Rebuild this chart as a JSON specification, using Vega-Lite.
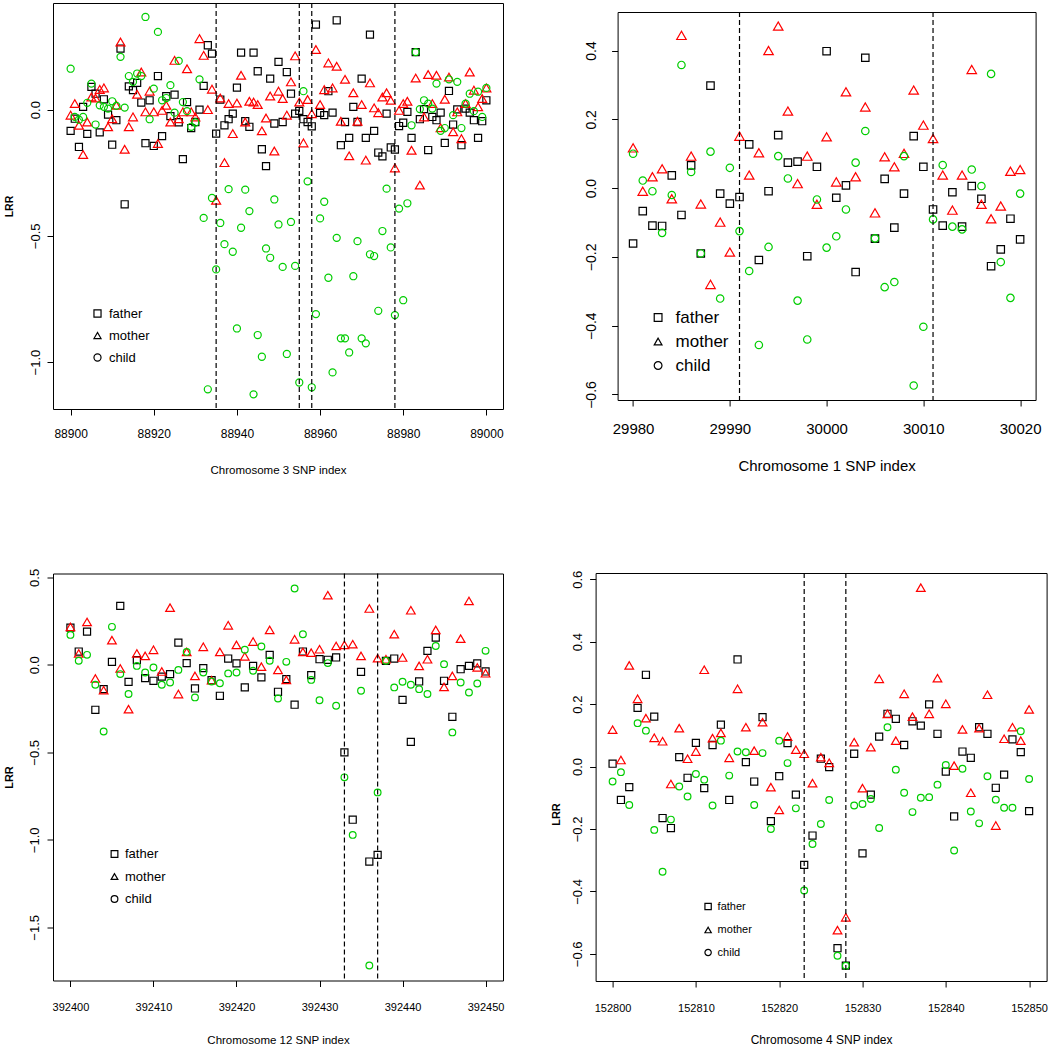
{
"$schema": "https://vega.github.io/schema/vega-lite/v6.json",
"padding": {"left": 2, "top": 1, "right": 0, "bottom": 0},
"background": "white",
"config": {
  "view": {"stroke": "black", "strokeWidth": 1},
  "axis": {"grid": false, "domain": false, "tickColor": "black", "tickSize": 6, "labelColor": "black", "titleColor": "black", "labelFont": "Liberation Sans", "titleFont": "Liberation Sans", "labelFlush": false, "labelOverlap": false, "titleFontWeight": "normal"},
  "legend": {"labelFont": "Liberation Sans", "labelColor": "black"}
},
"datasets": {
"tl": [
{"i":88900,"f":-0.084,"m":-0.022,"c":0.162},{"i":88901,"f":-0.036,"m":0.024,"c":-0.029},{"i":88902,"f":-0.148,"m":-0.062,"c":-0.04},{"i":88903,"f":0.011,"m":-0.178,"c":-0.029},{"i":88904,"f":-0.096,"m":-0.049,"c":0.027},{"i":88905,"f":0.09,"m":0.05,"c":0.103},{"i":88906,"f":0.063,"m":0.046,"c":-0.059},{"i":88907,"f":-0.09,"m":0.08,"c":0.017},{"i":88908,"f":0.041,"m":0.086,"c":0.011},{"i":88909,"f":-0.02,"m":-0.068,"c":0.004},
{"i":88910,"f":-0.139,"m":-0.036,"c":0.033},{"i":88911,"f":-0.042,"m":0.017,"c":0.015},{"i":88912,"f":0.242,"m":0.268,"c":0.209},{"i":88913,"f":-0.375,"m":-0.157,"c":0.008},{"i":88914,"f":0.092,"m":-0.068,"c":0.133},{"i":88915,"f":0.077,"m":-0.029,"c":0.11},{"i":88916,"f":0.106,"m":0.061,"c":0.143},{"i":88917,"f":0.028,"m":0.149,"c":0.133},{"i":88918,"f":-0.133,"m":-0.009,"c":0.367},{"i":88919,"f":0.037,"m":0.073,"c":-0.038},
{"i":88920,"f":-0.144,"m":-0.009,"c":0.083},{"i":88921,"f":0.133,"m":-0.134,"c":0.308},{"i":88922,"f":-0.105,"m":-0.003,"c":0.037},{"i":88923,"f":0.053,"m":0.017,"c":0.046},{"i":88924,"f":-0.026,"m":-0.049,"c":0.097},{"i":88925,"f":0.059,"m":0.195,"c":-0.012},{"i":88926,"f":-0.05,"m":-0.036,"c":0.193},{"i":88927,"f":-0.196,"m":-0.009,"c":0.03},{"i":88928,"f":0.03,"m":0.162,"c":-0.006},{"i":88929,"f":-0.073,"m":-0.009,"c":-0.068},
{"i":88930,"f":-0.049,"m":-0.029,"c":-0.051},{"i":88931,"f":0.0,"m":0.281,"c":0.12},{"i":88932,"f":0.094,"m":0.215,"c":-0.429},{"i":88933,"f":0.255,"m":0.0,"c":-1.108},{"i":88934,"f":0.222,"m":0.081,"c":-0.35},{"i":88935,"f":-0.095,"m":-0.359,"c":-0.633},{"i":88936,"f":0.04,"m":0.046,"c":-0.449},{"i":88937,"f":-0.062,"m":-0.21,"c":-0.533},{"i":88938,"f":-0.038,"m":0.024,"c":-0.315},{"i":88939,"f":-0.016,"m":-0.095,"c":-0.563},
{"i":88940,"f":0.087,"m":0.026,"c":-0.867},{"i":88941,"f":0.226,"m":0.136,"c":-0.468},{"i":88942,"f":-0.046,"m":-0.049,"c":-0.317},{"i":88943,"f":-0.068,"m":0.033,"c":-0.402},{"i":88944,"f":0.226,"m":0.03,"c":-1.128},{"i":88945,"f":0.152,"m":0.02,"c":-0.893},{"i":88946,"f":-0.157,"m":-0.084,"c":-0.979},{"i":88947,"f":-0.224,"m":-0.033,"c":-0.55},{"i":88948,"f":0.123,"m":0.054,"c":-0.587},{"i":88949,"f":-0.055,"m":-0.164,"c":-0.356},
{"i":88950,"f":0.189,"m":0.073,"c":-0.455},{"i":88951,"f":-0.049,"m":0.044,"c":-0.623},{"i":88952,"f":0.149,"m":-0.022,"c":-0.968},{"i":88953,"f":0.063,"m":0.11,"c":-0.445},{"i":88954,"f":-0.016,"m":0.213,"c":-0.619},{"i":88955,"f":-0.005,"m":0.03,"c":-1.081},{"i":88956,"f":-0.038,"m":-0.132,"c":0.073},{"i":88957,"f":-0.049,"m":0.04,"c":-0.284},{"i":88958,"f":-0.066,"m":-0.016,"c":-1.1},{"i":88959,"f":0.337,"m":0.238,"c":-0.81},
{"i":88960,"f":-0.013,"m":0.02,"c":-0.431},{"i":88961,"f":-0.022,"m":0.079,"c":-0.365},{"i":88962,"f":0.073,"m":0.185,"c":-0.666},{"i":88963,"f":-0.012,"m":0.086,"c":-1.041},{"i":88964,"f":0.354,"m":0.172,"c":-0.508},{"i":88965,"f":-0.141,"m":-0.046,"c":-0.906},{"i":88966,"f":-0.049,"m":0.12,"c":-0.906},{"i":88967,"f":-0.112,"m":-0.183,"c":-0.962},{"i":88968,"f":0.011,"m":0.067,"c":-0.66},{"i":88969,"f":-0.049,"m":-0.046,"c":-0.521},
{"i":88970,"f":0.123,"m":0.02,"c":-0.906},{"i":88971,"f":-0.112,"m":-0.2,"c":-0.926},{"i":88972,"f":0.297,"m":0.106,"c":-0.573},{"i":88973,"f":-0.084,"m":0.007,"c":-0.58},{"i":88974,"f":-0.17,"m":-0.012,"c":-0.797},{"i":88975,"f":-0.185,"m":0.05,"c":-0.481},{"i":88976,"f":-0.016,"m":0.067,"c":-0.313},{"i":88977,"f":-0.15,"m":0.037,"c":-0.546},{"i":88978,"f":-0.158,"m":-0.231,"c":-0.814},{"i":88979,"f":-0.065,"m":-0.003,"c":-0.392},
{"i":88980,"f":-0.052,"m":0.024,"c":-0.755},{"i":88981,"f":-0.009,"m":0.033,"c":-0.371},{"i":88982,"f":-0.112,"m":-0.161,"c":-0.062},{"i":88983,"f":0.228,"m":0.125,"c":0.228},{"i":88984,"f":-0.038,"m":-0.299,"c":0.002},{"i":88985,"f":0.002,"m":-0.029,"c":0.037},{"i":88986,"f":-0.16,"m":0.139,"c":0.024},{"i":88987,"f":-0.029,"m":0.024,"c":0.004},{"i":88988,"f":-0.042,"m":0.136,"c":0.103},{"i":88989,"f":-0.012,"m":-0.072,"c":-0.084},
{"i":88990,"f":-0.132,"m":0.041,"c":-0.073},{"i":88991,"f":0.074,"m":0.129,"c":0.12},{"i":88992,"f":-0.059,"m":-0.088,"c":-0.022},{"i":88993,"f":0.001,"m":-0.009,"c":0.11},{"i":88994,"f":-0.141,"m":-0.115,"c":-0.073},{"i":88995,"f":0.004,"m":0.024,"c":0.024},{"i":88996,"f":-0.012,"m":0.149,"c":0.063},{"i":88997,"f":-0.042,"m":0.077,"c":-0.006},{"i":88998,"f":-0.112,"m":0.011,"c":0.071},{"i":88999,"f":-0.046,"m":0.044,"c":-0.029},
{"i":89000,"f":0.037,"m":0.086,"c":0.086}
],
"tr": [
{"i":29980,"f":-0.161,"m":0.117,"c":0.1},{"i":29981,"f":-0.067,"m":-0.009,"c":0.022},{"i":29982,"f":-0.109,"m":0.033,"c":-0.009},{"i":29983,"f":-0.11,"m":0.056,"c":-0.13},{"i":29984,"f":0.037,"m":-0.031,"c":-0.02},{"i":29985,"f":-0.078,"m":0.444,"c":0.358},{"i":29986,"f":0.066,"m":0.093,"c":0.047},{"i":29987,"f":-0.19,"m":-0.046,"c":-0.19},{"i":29988,"f":0.298,"m":-0.28,"c":0.106},{"i":29989,"f":-0.016,"m":-0.099,"c":-0.321},
{"i":29990,"f":-0.045,"m":-0.186,"c":0.059},{"i":29991,"f":-0.026,"m":0.151,"c":-0.125},{"i":29992,"f":0.127,"m":0.038,"c":-0.241},{"i":29993,"f":-0.209,"m":0.103,"c":-0.456},{"i":29994,"f":-0.009,"m":0.4,"c":-0.171},{"i":29995,"f":0.154,"m":0.471,"c":0.093},{"i":29996,"f":0.074,"m":0.224,"c":0.028},{"i":29997,"f":0.077,"m":0.013,"c":-0.327},{"i":29998,"f":-0.198,"m":0.093,"c":-0.44},{"i":29999,"f":0.062,"m":-0.047,"c":-0.033},
{"i":30000,"f":0.398,"m":0.149,"c":-0.173},{"i":30001,"f":-0.028,"m":0.018,"c":-0.14},{"i":30002,"f":0.008,"m":0.28,"c":-0.062},{"i":30003,"f":-0.244,"m":0.033,"c":0.074},{"i":30004,"f":0.379,"m":0.236,"c":0.166},{"i":30005,"f":-0.147,"m":-0.072,"c":-0.146},{"i":30006,"f":0.027,"m":0.091,"c":-0.288},{"i":30007,"f":-0.115,"m":0.062,"c":-0.273},{"i":30008,"f":-0.016,"m":0.101,"c":0.093},{"i":30009,"f":0.151,"m":0.285,"c":-0.574},
{"i":30010,"f":0.062,"m":0.183,"c":-0.403},{"i":30011,"f":-0.062,"m":0.144,"c":-0.091},{"i":30012,"f":-0.109,"m":0.038,"c":0.067},{"i":30013,"f":-0.012,"m":-0.064,"c":-0.112},{"i":30014,"f":-0.112,"m":0.038,"c":-0.12},{"i":30015,"f":0.006,"m":0.345,"c":0.054},{"i":30016,"f":-0.031,"m":-0.047,"c":0.006},{"i":30017,"f":-0.227,"m":-0.089,"c":0.332},{"i":30018,"f":-0.178,"m":-0.052,"c":-0.215},{"i":30019,"f":-0.089,"m":0.049,"c":-0.319},
{"i":30020,"f":-0.149,"m":0.054,"c":-0.016}
],
"bl": [
{"i":392400,"f":0.213,"m":0.217,"c":0.171},{"i":392401,"f":0.076,"m":0.065,"c":0.023},{"i":392402,"f":0.19,"m":0.245,"c":0.057},{"i":392403,"f":-0.257,"m":-0.078,"c":-0.114},{"i":392404,"f":-0.139,"m":-0.145,"c":-0.381},{"i":392405,"f":0.017,"m":0.141,"c":0.217},{"i":392406,"f":0.337,"m":-0.021,"c":-0.053},{"i":392407,"f":-0.097,"m":-0.253,"c":-0.167},{"i":392408,"f":0.027,"m":0.065,"c":-0.006},{"i":392409,"f":-0.076,"m":0.051,"c":-0.044},
{"i":392410,"f":-0.091,"m":0.086,"c":-0.015},{"i":392411,"f":-0.067,"m":-0.038,"c":-0.114},{"i":392412,"f":-0.053,"m":0.327,"c":-0.101},{"i":392413,"f":0.127,"m":-0.167,"c":-0.029},{"i":392414,"f":0.01,"m":0.074,"c":0.074},{"i":392415,"f":-0.135,"m":-0.063,"c":-0.186},{"i":392416,"f":-0.019,"m":0.103,"c":-0.044},{"i":392417,"f":-0.088,"m":-0.088,"c":-0.095},{"i":392418,"f":-0.177,"m":0.074,"c":-0.105},{"i":392419,"f":0.036,"m":0.226,"c":-0.049},
{"i":392420,"f":0.008,"m":0.114,"c":-0.044},{"i":392421,"f":-0.129,"m":0.048,"c":0.086},{"i":392422,"f":-0.006,"m":0.133,"c":-0.034},{"i":392423,"f":-0.072,"m":-0.01,"c":0.105},{"i":392424,"f":0.057,"m":0.2,"c":0.023},{"i":392425,"f":-0.154,"m":-0.029,"c":-0.192},{"i":392426,"f":-0.082,"m":-0.086,"c":0.017},{"i":392427,"f":-0.228,"m":0.146,"c":0.436},{"i":392428,"f":0.076,"m":0.074,"c":0.175},{"i":392429,"f":-0.059,"m":0.07,"c":-0.086},
{"i":392430,"f":0.032,"m":0.089,"c":-0.202},{"i":392431,"f":0.029,"m":0.398,"c":0.01},{"i":392432,"f":0.042,"m":0.108,"c":-0.234},{"i":392433,"f":-0.5,"m":0.114,"c":-0.643},{"i":392434,"f":-0.885,"m":0.118,"c":-0.972},{"i":392435,"f":-0.04,"m":0.051,"c":-0.148},{"i":392436,"f":-1.124,"m":0.322,"c":-1.718},{"i":392437,"f":-1.086,"m":0.038,"c":-0.729},{"i":392438,"f":0.023,"m":0.032,"c":0.023},{"i":392439,"f":0.036,"m":0.175,"c":-0.129},
{"i":392440,"f":-0.2,"m":0.042,"c":-0.097},{"i":392441,"f":-0.44,"m":0.312,"c":-0.114},{"i":392442,"f":-0.095,"m":-0.006,"c":-0.139},{"i":392443,"f":0.08,"m":0.032,"c":-0.167},{"i":392444,"f":0.156,"m":0.2,"c":0.108},{"i":392445,"f":-0.091,"m":-0.126,"c":0.004},{"i":392446,"f":-0.297,"m":-0.063,"c":-0.386},{"i":392447,"f":-0.025,"m":0.15,"c":-0.101},{"i":392448,"f":-0.006,"m":0.365,"c":-0.158},{"i":392449,"f":0.008,"m":-0.015,"c":-0.107},
{"i":392450,"f":-0.038,"m":-0.048,"c":0.08}
],
"br": [
{"i":152800,"f":0.009,"m":0.118,"c":-0.048},{"i":152801,"f":-0.107,"m":0.021,"c":-0.018},{"i":152802,"f":-0.066,"m":0.324,"c":-0.123},{"i":152803,"f":0.188,"m":0.217,"c":0.139},{"i":152804,"f":0.294,"m":0.155,"c":0.115},{"i":152805,"f":0.16,"m":0.092,"c":-0.203},{"i":152806,"f":-0.165,"m":0.081,"c":-0.337},{"i":152807,"f":-0.197,"m":-0.056,"c":-0.17},{"i":152808,"f":0.03,"m":0.123,"c":-0.064},{"i":152809,"f":-0.036,"m":0.025,"c":-0.096},
{"i":152810,"f":0.076,"m":0.048,"c":-0.024},{"i":152811,"f":-0.069,"m":0.31,"c":-0.042},{"i":152812,"f":0.069,"m":0.091,"c":-0.125},{"i":152813,"f":0.134,"m":0.108,"c":0.083},{"i":152814,"f":-0.107,"m":0.028,"c":-0.029},{"i":152815,"f":0.343,"m":0.249,"c":0.048},{"i":152816,"f":0.014,"m":0.126,"c":0.046},{"i":152817,"f":-0.048,"m":0.051,"c":-0.123},{"i":152818,"f":0.158,"m":0.142,"c":0.043},{"i":152819,"f":-0.175,"m":-0.066,"c":-0.2},
{"i":152820,"f":-0.031,"m":-0.139,"c":0.083},{"i":152821,"f":0.075,"m":0.096,"c":0.011},{"i":152822,"f":-0.09,"m":0.054,"c":-0.134},{"i":152823,"f":-0.315,"m":0.041,"c":-0.397},{"i":152824,"f":-0.221,"m":-0.053,"c":-0.248},{"i":152825,"f":0.025,"m":0.03,"c":-0.184},{"i":152826,"f":-0.002,"m":0.012,"c":-0.107},{"i":152827,"f":-0.582,"m":-0.524,"c":-0.606},{"i":152828,"f":-0.638,"m":-0.483,"c":-0.638},{"i":152829,"f":0.041,"m":0.078,"c":-0.125},
{"i":152830,"f":-0.278,"m":-0.069,"c":-0.12},{"i":152831,"f":-0.09,"m":0.062,"c":-0.104},{"i":152832,"f":0.096,"m":0.281,"c":-0.197},{"i":152833,"f":0.169,"m":0.169,"c":0.126},{"i":152834,"f":0.153,"m":0.083,"c":-0.01},{"i":152835,"f":0.069,"m":0.233,"c":-0.084},{"i":152836,"f":0.145,"m":0.16,"c":-0.146},{"i":152837,"f":0.131,"m":0.573,"c":-0.1},{"i":152838,"f":0.199,"m":0.169,"c":-0.098},{"i":152839,"f":0.105,"m":0.283,"c":-0.058},
{"i":152840,"f":-0.016,"m":0.201,"c":0.005},{"i":152841,"f":-0.16,"m":0.003,"c":-0.269},{"i":152842,"f":0.048,"m":0.119,"c":-0.007},{"i":152843,"f":0.028,"m":-0.084,"c":-0.144},{"i":152844,"f":0.126,"m":0.123,"c":-0.182},{"i":152845,"f":0.105,"m":0.23,"c":-0.031},{"i":152846,"f":-0.068,"m":-0.189,"c":-0.106},{"i":152847,"f":-0.026,"m":0.089,"c":-0.132},{"i":152848,"f":0.087,"m":0.126,"c":-0.132},{"i":152849,"f":0.046,"m":0.083,"c":0.113},
{"i":152850,"f":-0.143,"m":0.183,"c":-0.04}
]
},
"spacing": 91,
"resolve": {"scale": {"shape": "independent"}, "legend": {"shape": "independent"}},
"vconcat": [
{
"spacing": 114.6,
"bounds": "flush",
"center": true,
"resolve": {"scale": {"shape": "independent"}, "legend": {"shape": "independent"}},
"hconcat": [
{
"width": 450, "height": 406,
"data": {"name": "tl"},
"layer": [
{"mark": {"type": "point", "filled": false, "color": "#000000", "size": 50, "strokeWidth": 1.2, "opacity": 1},
 "encoding": {
  "x": {"field": "i", "type": "quantitative", "scale": {"domain": [88895.76, 89004], "nice": false, "zero": false},
        "axis": {"title": "Chromosome 3 SNP index", "values": [88900, 88920, 88940, 88960, 88980, 89000], "format": "d", "labelFontSize": 12, "titleFontSize": 11.5, "labelPadding": 13, "titlePadding": 25}},
  "y": {"field": "f", "type": "quantitative", "scale": {"domain": [-1.186, 0.4224], "nice": false, "zero": false},
        "axis": {"title": "LRR", "values": [-1, -0.5, 0], "format": ".1f", "labelAngle": -90, "labelAlign": "center", "labelBaseline": "alphabetic", "labelFontSize": 13, "titleFontSize": 10.5, "titleFontWeight": "bold", "labelPadding": 8, "titlePadding": 15}},
  "shape": {"datum": "father", "type": "nominal", "scale": {"domain": ["father", "mother", "child"], "range": ["square", "triangle-up", "circle"]},
        "legend": {"orient": "none", "legendX": 38, "legendY": 304, "title": null, "direction": "vertical", "labelFontSize": 13, "symbolSize": 50, "symbolStrokeColor": "black", "symbolFillColor": "transparent", "symbolStrokeWidth": 1.2, "rowPadding": 8, "labelOffset": 5, "padding": 0}}
 }},
{"mark": {"type": "point", "filled": false, "color": "#FF0000", "size": 80, "strokeWidth": 1.2, "opacity": 1},
 "encoding": {
  "x": {"field": "i", "type": "quantitative", "scale": {"domain": [88895.76, 89004], "nice": false, "zero": false}},
  "y": {"field": "m", "type": "quantitative", "scale": {"domain": [-1.186, 0.4224], "nice": false, "zero": false}},
  "shape": {"datum": "mother", "type": "nominal", "scale": {"domain": ["father", "mother", "child"], "range": ["square", "triangle-up", "circle"]}}
 }},
{"mark": {"type": "point", "filled": false, "color": "#00CD00", "size": 50, "strokeWidth": 1.2, "opacity": 1},
 "encoding": {
  "x": {"field": "i", "type": "quantitative", "scale": {"domain": [88895.76, 89004], "nice": false, "zero": false}},
  "y": {"field": "c", "type": "quantitative", "scale": {"domain": [-1.186, 0.4224], "nice": false, "zero": false}},
  "shape": {"datum": "child", "type": "nominal", "scale": {"domain": ["father", "mother", "child"], "range": ["square", "triangle-up", "circle"]}}
 }},
{"data": {"values": [{"i": 88935}, {"i": 88955}, {"i": 88958}, {"i": 88978}]},
 "mark": {"type": "rule", "color": "black", "strokeWidth": 1.2, "strokeDash": [5, 3]},
 "encoding": {"x": {"field": "i", "type": "quantitative"}}}
]
},
{
"width": 418, "height": 388,
"data": {"name": "tr"},
"layer": [
{"mark": {"type": "point", "filled": false, "color": "#000000", "size": 55, "strokeWidth": 1.2, "opacity": 1},
 "encoding": {
  "x": {"field": "i", "type": "quantitative", "scale": {"domain": [29978.4, 30021.6], "nice": false, "zero": false},
        "axis": {"title": "Chromosome 1 SNP index", "values": [29980, 29990, 30000, 30010, 30020], "format": "d", "labelFontSize": 15, "titleFontSize": 15, "labelPadding": 15, "titlePadding": 22}},
  "y": {"field": "f", "type": "quantitative", "scale": {"domain": [-0.616, 0.512], "nice": false, "zero": false},
        "axis": {"title": null, "values": [-0.6, -0.4, -0.2, 0, 0.2, 0.4], "format": ".1f", "labelAngle": -90, "labelAlign": "center", "labelBaseline": "alphabetic", "labelFontSize": 14, "labelPadding": 16}},
  "shape": {"datum": "father", "type": "nominal", "scale": {"domain": ["father", "mother", "child"], "range": ["square", "triangle-up", "circle"]},
        "legend": {"orient": "none", "legendX": 32, "legendY": 297, "title": null, "direction": "vertical", "labelFontSize": 17, "symbolSize": 60, "symbolStrokeColor": "black", "symbolFillColor": "transparent", "symbolStrokeWidth": 1.2, "rowPadding": 6, "labelOffset": 9, "padding": 0}}
 }},
{"mark": {"type": "point", "filled": false, "color": "#FF0000", "size": 90, "strokeWidth": 1.2, "opacity": 1},
 "encoding": {
  "x": {"field": "i", "type": "quantitative", "scale": {"domain": [29978.4, 30021.6], "nice": false, "zero": false}},
  "y": {"field": "m", "type": "quantitative", "scale": {"domain": [-0.616, 0.512], "nice": false, "zero": false}},
  "shape": {"datum": "mother", "type": "nominal", "scale": {"domain": ["father", "mother", "child"], "range": ["square", "triangle-up", "circle"]}}
 }},
{"mark": {"type": "point", "filled": false, "color": "#00CD00", "size": 55, "strokeWidth": 1.2, "opacity": 1},
 "encoding": {
  "x": {"field": "i", "type": "quantitative", "scale": {"domain": [29978.4, 30021.6], "nice": false, "zero": false}},
  "y": {"field": "c", "type": "quantitative", "scale": {"domain": [-0.616, 0.512], "nice": false, "zero": false}},
  "shape": {"datum": "child", "type": "nominal", "scale": {"domain": ["father", "mother", "child"], "range": ["square", "triangle-up", "circle"]}}
 }},
{"data": {"values": [{"i": 29991}, {"i": 30011}]},
 "mark": {"type": "rule", "color": "black", "strokeWidth": 1.2, "strokeDash": [5, 3]},
 "encoding": {"x": {"field": "i", "type": "quantitative"}}}
]
}
]
},
{
"spacing": 92.6,
"bounds": "flush",
"center": true,
"resolve": {"scale": {"shape": "independent"}, "legend": {"shape": "independent"}},
"hconcat": [
{
"width": 450, "height": 407,
"data": {"name": "bl"},
"layer": [
{"mark": {"type": "point", "filled": false, "color": "#000000", "size": 50, "strokeWidth": 1.2, "opacity": 1},
 "encoding": {
  "x": {"field": "i", "type": "quantitative", "scale": {"domain": [392397.9, 392452.1], "nice": false, "zero": false},
        "axis": {"title": "Chromosome 12 SNP index", "values": [392400, 392410, 392420, 392430, 392440, 392450], "format": "d", "labelFontSize": 11, "titleFontSize": 11.5, "labelPadding": 15, "titlePadding": 22}},
  "y": {"field": "f", "type": "quantitative", "scale": {"domain": [-1.804, 0.522], "nice": false, "zero": false},
        "axis": {"title": "LRR", "values": [-1.5, -1, -0.5, 0, 0.5], "format": ".1f", "labelAngle": -90, "labelAlign": "center", "labelBaseline": "alphabetic", "labelFontSize": 13, "titleFontSize": 11, "titleFontWeight": "bold", "labelPadding": 9, "titlePadding": 14}},
  "shape": {"datum": "father", "type": "nominal", "scale": {"domain": ["father", "mother", "child"], "range": ["square", "triangle-up", "circle"]},
        "legend": {"orient": "none", "legendX": 55, "legendY": 274, "title": null, "direction": "vertical", "labelFontSize": 13, "symbolSize": 45, "symbolStrokeColor": "black", "symbolFillColor": "transparent", "symbolStrokeWidth": 1.2, "rowPadding": 8.5, "labelOffset": 4, "padding": 0}}
 }},
{"mark": {"type": "point", "filled": false, "color": "#FF0000", "size": 75, "strokeWidth": 1.2, "opacity": 1},
 "encoding": {
  "x": {"field": "i", "type": "quantitative", "scale": {"domain": [392397.9, 392452.1], "nice": false, "zero": false}},
  "y": {"field": "m", "type": "quantitative", "scale": {"domain": [-1.804, 0.522], "nice": false, "zero": false}},
  "shape": {"datum": "mother", "type": "nominal", "scale": {"domain": ["father", "mother", "child"], "range": ["square", "triangle-up", "circle"]}}
 }},
{"mark": {"type": "point", "filled": false, "color": "#00CD00", "size": 45, "strokeWidth": 1.2, "opacity": 1},
 "encoding": {
  "x": {"field": "i", "type": "quantitative", "scale": {"domain": [392397.9, 392452.1], "nice": false, "zero": false}},
  "y": {"field": "c", "type": "quantitative", "scale": {"domain": [-1.804, 0.522], "nice": false, "zero": false}},
  "shape": {"datum": "child", "type": "nominal", "scale": {"domain": ["father", "mother", "child"], "range": ["square", "triangle-up", "circle"]}}
 }},
{"data": {"values": [{"i": 392433}, {"i": 392437}]},
 "mark": {"type": "rule", "color": "black", "strokeWidth": 1.2, "strokeDash": [5, 3]},
 "encoding": {"x": {"field": "i", "type": "quantitative"}}}
]
},
{
"width": 451, "height": 408,
"data": {"name": "br"},
"layer": [
{"mark": {"type": "point", "filled": false, "color": "#000000", "size": 50, "strokeWidth": 1.2, "opacity": 1},
 "encoding": {
  "x": {"field": "i", "type": "quantitative", "scale": {"domain": [152797.96, 152852.1], "nice": false, "zero": false},
        "axis": {"title": "Chromosome 4 SNP index", "values": [152800, 152810, 152820, 152830, 152840, 152850], "format": "d", "labelFontSize": 11, "titleFontSize": 12, "labelPadding": 15, "titlePadding": 21}},
  "y": {"field": "f", "type": "quantitative", "scale": {"domain": [-0.687, 0.62], "nice": false, "zero": false},
        "axis": {"title": "LRR", "values": [-0.6, -0.4, -0.2, 0, 0.2, 0.4, 0.6], "format": ".1f", "labelAngle": -90, "labelAlign": "center", "labelBaseline": "alphabetic", "labelFontSize": 13, "titleFontSize": 11, "titleFontWeight": "bold", "labelPadding": 8, "titlePadding": 10, "titleY": 241}},
  "shape": {"datum": "father", "type": "nominal", "scale": {"domain": ["father", "mother", "child"], "range": ["square", "triangle-up", "circle"]},
        "legend": {"orient": "none", "legendX": 107, "legendY": 328, "title": null, "direction": "vertical", "labelFontSize": 11, "symbolSize": 40, "symbolStrokeColor": "black", "symbolFillColor": "transparent", "symbolStrokeWidth": 1.2, "rowPadding": 10.5, "labelOffset": 4, "padding": 0}}
 }},
{"mark": {"type": "point", "filled": false, "color": "#FF0000", "size": 75, "strokeWidth": 1.2, "opacity": 1},
 "encoding": {
  "x": {"field": "i", "type": "quantitative", "scale": {"domain": [152797.96, 152852.1], "nice": false, "zero": false}},
  "y": {"field": "m", "type": "quantitative", "scale": {"domain": [-0.687, 0.62], "nice": false, "zero": false}},
  "shape": {"datum": "mother", "type": "nominal", "scale": {"domain": ["father", "mother", "child"], "range": ["square", "triangle-up", "circle"]}}
 }},
{"mark": {"type": "point", "filled": false, "color": "#00CD00", "size": 45, "strokeWidth": 1.2, "opacity": 1},
 "encoding": {
  "x": {"field": "i", "type": "quantitative", "scale": {"domain": [152797.96, 152852.1], "nice": false, "zero": false}},
  "y": {"field": "c", "type": "quantitative", "scale": {"domain": [-0.687, 0.62], "nice": false, "zero": false}},
  "shape": {"datum": "child", "type": "nominal", "scale": {"domain": ["father", "mother", "child"], "range": ["square", "triangle-up", "circle"]}}
 }},
{"data": {"values": [{"i": 152823}, {"i": 152828}]},
 "mark": {"type": "rule", "color": "black", "strokeWidth": 1.2, "strokeDash": [5, 3]},
 "encoding": {"x": {"field": "i", "type": "quantitative"}}}
]
}
]
}
]
}
